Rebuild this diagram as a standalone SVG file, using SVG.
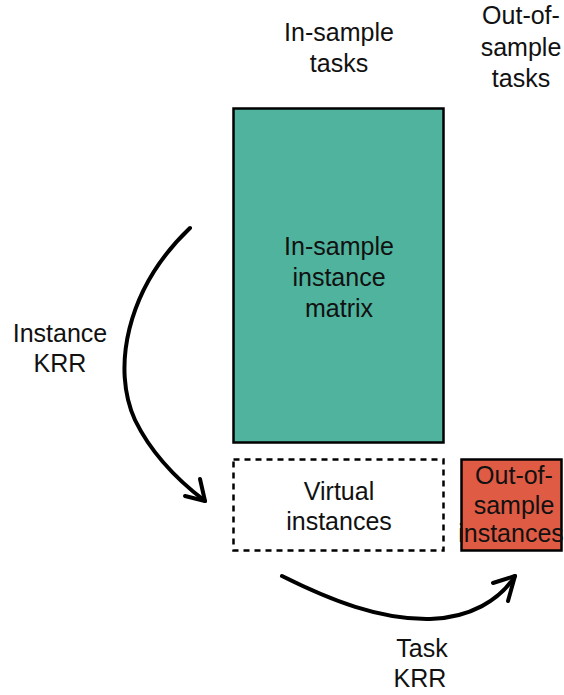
<svg xmlns="http://www.w3.org/2000/svg" width="564" height="695" viewBox="0 0 564 695">
<style>
text{font-family:"Liberation Sans",Arial,sans-serif;font-size:25px;fill:#111;text-anchor:middle}
.arrow{fill:none;stroke:#000;stroke-width:4;stroke-linecap:round;stroke-linejoin:round}
</style>
<rect width="564" height="695" fill="#fff"/>
<g id="header-in"><text x="339" y="41">In-sample</text><text x="339" y="72">tasks</text></g>
<g id="header-out"><text x="521" y="24">Out-of-</text><text x="521" y="56">sample</text><text x="521" y="87">tasks</text></g>
<g id="matrix">
<rect x="233.5" y="108.5" width="210" height="334" fill="#50b39d" stroke="#000" stroke-width="2.5"/>
<text x="339" y="255">In-sample</text><text x="339" y="286">instance</text><text x="339" y="317">matrix</text>
</g>
<g id="virtual">
<rect x="233.5" y="459.5" width="210" height="91" fill="#fff" stroke="#000" stroke-width="2.5" stroke-dasharray="6,5"/>
<text x="339" y="500">Virtual</text><text x="339" y="530">instances</text>
</g>
<g id="outsample">
<rect x="461.5" y="459.5" width="100" height="91" fill="#e05b44" stroke="#000" stroke-width="2.5"/>
<text x="514" y="484">Out-of-</text><text x="514" y="514">sample</text><text x="511" y="542" font-size="21">instances</text>
</g>
<g id="labels">
<text x="60" y="342">Instance</text><text x="60" y="372">KRR</text>
<text x="422" y="657">Task</text><text x="420" y="687">KRR</text>
</g>
<g id="connectors">
<path class="arrow" d="M190,228 C125,290 112,370 135,420 C152,455 180,482 205,501"/>
<path class="arrow" d="M185,496 L205,501 L200,479"/>
<path class="arrow" d="M282,576 C330,600 380,620 430,619 C470,618 500,600 515,576"/>
<path class="arrow" d="M493,583 L515,576 L508,601"/>
</g>
</svg>
